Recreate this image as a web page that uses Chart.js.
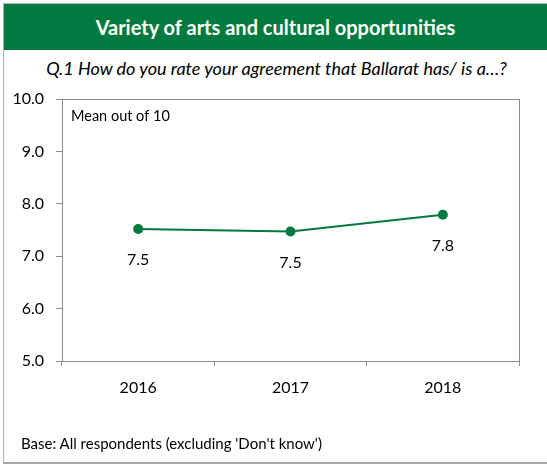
<!DOCTYPE html>
<html>
<head>
<meta charset="utf-8">
<script src="https://cdn.jsdelivr.net/npm/chart.js@4.4.1/dist/chart.umd.min.js"></script>
<style>
  html, body { margin: 0; padding: 0; background: #fff; }
  #wrap { position: relative; width: 547px; height: 465px; overflow: hidden; font-family: Lato, "Open Sans", sans-serif; }
  #frame { position: absolute; left: 3px; top: 3px; width: 560px; height: 458px;
           border-left: 1px solid #b4b4b4; border-top: 1px solid #b4b4b4; border-bottom: 2px solid #a8a8a8; }
  #header { position: absolute; left: 4px; top: 4px; width: 543px; height: 46px; background: #007a3e;
            color: #fff; font-weight: 700; font-size: 20px; line-height: 46px; text-align: center; }
  #question { position: absolute; left: 0; top: 58px; width: 553px; text-align: center;
              font-style: italic; font-size: 18px; color: #000; line-height: 20px; }
  #base { position: absolute; left: 21px; top: 433px; font-size: 15px; color: #000; line-height: 20px; }
  canvas { position: absolute; left: 0; top: 0; }
</style>
</head>
<body>
<div id="wrap">
  <div id="frame"></div>
  <div id="header">Variety of arts and cultural opportunities</div>
  <div id="question">Q.1 How do you rate your agreement that Ballarat has/ is a…?</div>
  <canvas id="chart" width="547" height="465"></canvas>
  <div id="base">Base: All respondents (excluding 'Don't know')</div>
</div>
<script>
// Survey years and mean scores (out of 10)
const years = ['2016', '2017', '2018'];
const meanScores = [7.52, 7.47, 7.79];
const yTicks = [5, 6, 7, 8, 9, 10];

const GREEN = '#007a3e';
const AXIS_GREY = '#8c8c8c';
const FONT = 'Lato, "Open Sans", sans-serif';

// Plot frame, inner caption and value labels
const decorations = {
  id: 'decorations',
  afterDatasetsDraw(chart) {
    const { ctx, chartArea: a } = chart;
    ctx.save();
    ctx.strokeStyle = AXIS_GREY;
    ctx.lineWidth = 1;
    ctx.strokeRect(Math.round(a.left) + 0.5, Math.round(a.top) + 0.5,
                   Math.round(a.right - a.left), Math.round(a.bottom - a.top));
    ctx.fillStyle = '#000';
    ctx.font = '14.5px ' + FONT;
    ctx.textBaseline = 'middle';
    ctx.textAlign = 'left';
    ctx.fillText('Mean out of 10', a.left + 9, a.top + 17);

    ctx.font = '16px ' + FONT;
    ctx.textAlign = 'center';
    const meta = chart.getDatasetMeta(0);
    meta.data.forEach((pt, i) => {
      ctx.fillText(meanScores[i].toFixed(1), pt.x, pt.y + 31);
    });
    ctx.restore();
  }
};

new Chart(document.getElementById('chart'), {
  type: 'line',
  data: {
    labels: years,
    datasets: [{
      data: meanScores,
      borderColor: GREEN,
      backgroundColor: GREEN,
      borderWidth: 2,
      pointRadius: 5,
      pointBorderWidth: 0,
      pointBackgroundColor: GREEN,
      tension: 0
    }]
  },
  options: {
    responsive: false,
    animation: false,
    layout: { padding: { top: 99, right: 28, left: 0, bottom: 0 } },
    plugins: { legend: { display: false }, tooltip: { enabled: false }, title: { display: false } },
    scales: {
      y: {
        min: 5, max: 10,
        afterFit(scale) { scale.width = 62; },
        afterBuildTicks(scale) { scale.ticks = yTicks.map(v => ({ value: v })); },
        ticks: {
          callback: v => Number(v).toFixed(1),
          color: '#000',
          font: { size: 16, family: FONT },
          padding: 12
        },
        grid: { drawOnChartArea: false, drawTicks: true, tickLength: 6, color: AXIS_GREY },
        border: { color: AXIS_GREY }
      },
      x: {
        offset: true,
        afterFit(scale) { scale.height = 104; },
        ticks: {
          color: '#000',
          font: { size: 16, family: FONT },
          padding: 12
        },
        grid: { offset: true, drawOnChartArea: false, drawTicks: true, tickLength: 5, color: AXIS_GREY },
        border: { color: AXIS_GREY }
      }
    }
  },
  plugins: [decorations]
});
</script>
</body>
</html>
